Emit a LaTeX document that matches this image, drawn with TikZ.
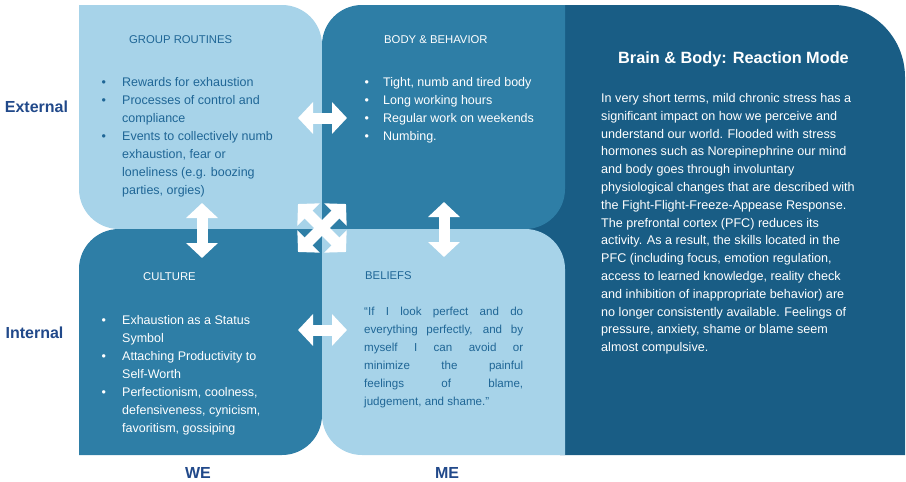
\documentclass[tikz,border=0pt]{standalone}
\usepackage{fontspec}
\setmainfont{Liberation Sans}
\usetikzlibrary{arrows.meta}
\definecolor{lightq}{HTML}{A7D3E9}
\definecolor{midq}{HTML}{2E7EA6}
\definecolor{darkq}{HTML}{195D85}
\definecolor{qtext}{HTML}{1F6696}
\definecolor{labc}{HTML}{21498A}
\hbadness=10000
\newcommand\bitem[2]{\hangindent=#1\hangafter=1\noindent\makebox[#1][l]{\textbullet}#2\par}
\tikzset{
  txt/.style={anchor=base west, inner sep=0pt},
  hdr/.style={anchor=base west, inner sep=0pt, font=\fontsize{11.3}{14}\selectfont},
  sidelab/.style={anchor=base, inner sep=0pt, text=labc, font=\bfseries\fontsize{16}{19}\selectfont},
  warrow/.style={draw=white, line width=11pt,
    {Triangle[width=31pt,length=15pt]}-{Triangle[width=31pt,length=15pt]}}
}
\begin{document}
\begin{tikzpicture}[x=1pt,y=-1pt]
\useasboundingbox (0,0) rectangle (906,482);
% right panel
\fill[darkq] (524,5) -- (833,5) .. controls (872.8,5) and (905,37.2) .. (905,77) -- (905,455) -- (560,455) -- (560,300) -- (524,300) -- cycle;
% quadrants
\fill[lightq] (79,5) -- (282,5) .. controls (304.1,5) and (322,22.9) .. (322,45) -- (322,229) -- (119,229) .. controls (96.9,229) and (79,211.1) .. (79,189) -- cycle;
\fill[midq] (322,45) .. controls (322,22.9) and (339.9,5) .. (362,5) -- (565,5) -- (565,189) .. controls (565,211.1) and (547.1,229) .. (525,229) -- (322,229) -- cycle;
\fill[midq] (79,269) .. controls (79,246.9) and (96.9,229) .. (119,229) -- (322,229) -- (322,415) .. controls (322,437.1) and (304.1,455) .. (282,455) -- (79,455) -- cycle;
\fill[lightq] (322,229) -- (525,229) .. controls (547.1,229) and (565,246.9) .. (565,269) -- (565,455) -- (362,455) .. controls (339.9,455) and (322,437.1) .. (322,415) -- cycle;
% arrows
\coordinate (h1a) at (298,118); \coordinate (h1b) at (347,118);
\coordinate (h2a) at (298,330); \coordinate (h2b) at (347,330);
\coordinate (v1a) at (202,203); \coordinate (v1b) at (202,258);
\coordinate (v2a) at (444,202); \coordinate (v2b) at (444,257);
\coordinate (d1a) at (298,204); \coordinate (d1b) at (346,252);
\coordinate (d2a) at (346,204); \coordinate (d2b) at (298,252);
\draw[warrow] (h1a) -- (h1b);
\draw[warrow] (h2a) -- (h2b);
\draw[warrow] (v1a) -- (v1b);
\draw[warrow] (v2a) -- (v2b);
\draw[warrow] (d1a) -- (d1b);
\draw[warrow] (d2a) -- (d2b);
% headers
\node[hdr, text=qtext] (hgroup) at (129,43.5) {GROUP ROUTINES};
\node[hdr, text=white] (hbody) at (384,43.5) {BODY \& BEHAVIOR};
\node[hdr, text=white] (hculture) at (143,280.5) {CULTURE};
\node[hdr, text=qtext] (hbeliefs) at (365,279) {BELIEFS};
% lists
\node[txt, text=qtext] (lgroup) at (101.5,86) {\parbox[t]{215pt}{\fontsize{12.5}{18}\selectfont
\bitem{20.5pt}{Rewards for exhaustion}
\bitem{20.5pt}{Processes of control and\newline compliance}
\bitem{20.5pt}{Events to collectively numb\newline exhaustion, fear or\newline loneliness (e.g. boozing\newline parties, orgies)}}};
\node[txt, text=white] (lbody) at (364.5,86) {\parbox[t]{200pt}{\fontsize{12.5}{18}\selectfont
\bitem{18.5pt}{Tight, numb and tired body}
\bitem{18.5pt}{Long working hours}
\bitem{18.5pt}{Regular work on weekends}
\bitem{18.5pt}{Numbing.}}};
\node[txt, text=white] (lculture) at (101.5,324) {\parbox[t]{215pt}{\fontsize{12.5}{18}\selectfont
\bitem{20.5pt}{Exhaustion as a Status\newline Symbol}
\bitem{20.5pt}{Attaching Productivity to\newline Self-Worth}
\bitem{20.5pt}{Perfectionism, coolness,\newline defensiveness, cynicism,\newline favoritism, gossiping}}};
\node[txt, text=qtext] (lbeliefs) at (364,315) {\parbox[t]{159pt}{\fontsize{11.6}{18}\selectfont
“If I look perfect and do\linebreak everything perfectly, and by\linebreak myself I can avoid or\linebreak minimize the painful\linebreak feelings of blame,\linebreak judgement, and shame.”}};
% right panel text
\node[anchor=base, inner sep=0pt, text=white, font=\bfseries\fontsize{16.3}{20}\selectfont] (title) at (733.5,63) {Brain \& Body: Reaction Mode};
\node[txt, text=white] (ptext) at (601,102.5) {\parbox[t]{300pt}{\fontsize{12.6}{17.8}\selectfont
In very short terms, mild chronic stress has a\\
significant impact on how we perceive and\\
understand our world. Flooded with stress\\
hormones such as Norepinephrine our mind\\
and body goes through involuntary\\
physiological changes that are described with\\
the Fight-Flight-Freeze-Appease Response.\\
The prefrontal cortex (PFC) reduces its\\
activity. As a result, the skills located in the\\
PFC (including focus, emotion regulation,\\
access to learned knowledge, reality check\\
and inhibition of inappropriate behavior) are\\
no longer consistently available. Feelings of\\
pressure, anxiety, shame or blame seem\\
almost compulsive.}};
% side labels
\node[sidelab] (lext) at (36.5,112) {External};
\node[sidelab] (lint) at (34.5,338) {Internal};
\node[sidelab] (lwe) at (198,478) {WE};
\node[sidelab] (lme) at (447,478) {ME};
\end{tikzpicture}
\end{document}
